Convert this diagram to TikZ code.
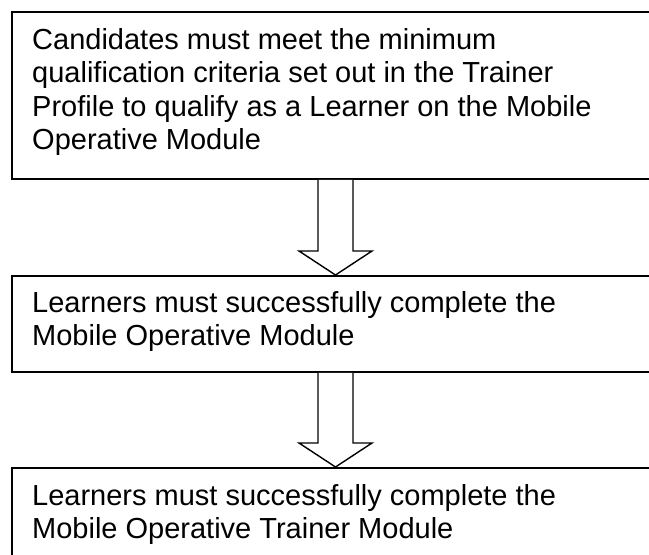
\documentclass[tikz,border=0pt]{standalone}
\usepackage{fontspec}
\setmainfont{Liberation Sans}
\usetikzlibrary{calc}
\tikzset{
  box/.style={draw=black, line width=1.8pt, fill=white, inner sep=0pt, anchor=north west},
  txt/.style={inner sep=0pt, anchor=north west, align=left, font=\fontsize{29}{33.5}\selectfont},
  hollow/.style={draw=black, line width=1.4pt, fill=white, line join=miter}
}
\newcommand\hollowarrow[2]{%
  \draw[hollow] ($(#1)+(-17.5,0)$) -- ($(#2)+(-17.5,-24)$) -- ($(#2)+(-36.5,-24)$) -- (#2)
    -- ($(#2)+(36.5,-24)$) -- ($(#2)+(17.5,-24)$) -- ($(#1)+(17.5,0)$);}
\begin{document}
\begin{tikzpicture}[x=1pt,y=-1pt]
\useasboundingbox (0,0) rectangle (649,555);
\clip (0,0) rectangle (649,555);
\fill[white] (0,0) rectangle (649,555);

\node[box, minimum width=700pt, minimum height=167pt] (b1) at (11,11) {};
\node[box, minimum width=700pt, minimum height=96pt] (b2) at (11,275) {};
\node[box, minimum width=700pt, minimum height=120pt] (b3) at (11,467) {};

\node[txt] (t1) at (32,28) {Candidates must meet the minimum\\qualification criteria set out in the Trainer\\Profile to qualify as a Learner on the Mobile\\Operative Module};
\node[txt] (t2) at (32,291) {Learners must successfully complete the\\Mobile Operative Module};
\node[txt] (t3) at (32,484) {Learners must successfully complete the\\Mobile Operative Trainer Module};

\coordinate (a1s) at ($(b1.south west)!0!(b1.south east)+(324.5,0)$);
\coordinate (a1e) at ($(b2.north west)+(324.5,0)$);
\coordinate (a2s) at ($(b2.south west)+(324.5,0)$);
\coordinate (a2e) at ($(b3.north west)+(324.5,0)$);
\hollowarrow{a1s}{a1e}
\hollowarrow{a2s}{a2e}
\end{tikzpicture}
\end{document}
